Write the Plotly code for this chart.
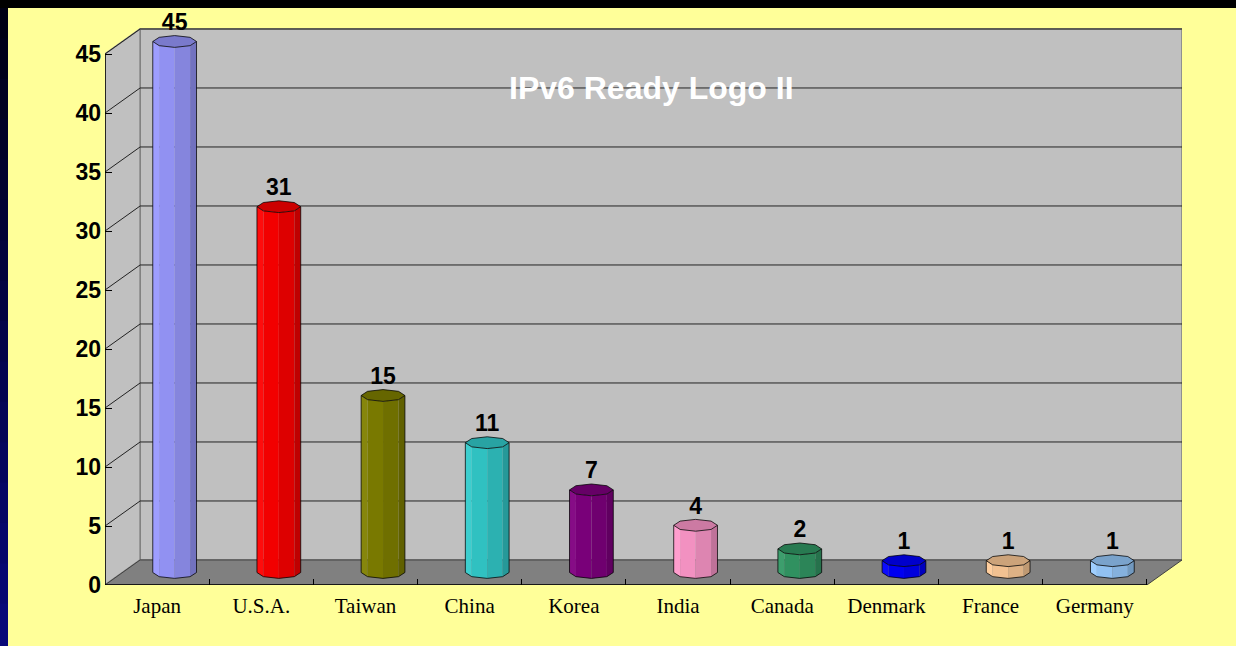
import plotly.graph_objects as go
import numpy as np

# ---- data ----
countries = ["Japan", "U.S.A.", "Taiwan", "China", "Korea", "India",
             "Canada", "Denmark", "France", "Germany"]
counts = [45, 31, 15, 11, 7, 4, 2, 1, 1, 1]
bar_colors = ["#9999FF", "#FF0000", "#808000", "#33CCCC", "#800080",
              "#FF99CC", "#339966", "#0000FF", "#FFCC99", "#99CCFF"]
y_ticks = [0, 5, 10, 15, 20, 25, 30, 35, 40, 45]
title_text = "IPv6 Ready Logo II"

# ---- geometry (axis units) ----
DX = 0.337      # depth offset in x units
DY = 2.12       # depth offset in y units
X0, X1 = -0.5, len(countries) - 0.5
YTOP = max(y_ticks)
A = 0.21        # cylinder half width
B = 0.5         # cap half height


def shade(hexcol, f):
    h = hexcol.lstrip("#")
    r, g, b = int(h[0:2], 16), int(h[2:4], 16), int(h[4:6], 16)
    if f >= 1:
        r, g, b = [int(c + (255 - c) * (f - 1)) for c in (r, g, b)]
    else:
        r, g, b = [int(c * f) for c in (r, g, b)]
    return "rgb(%d,%d,%d)" % (r, g, b)


fig = go.Figure()


def poly(xs, ys, fill, line="rgba(0,0,0,0)", width=0):
    fig.add_trace(go.Scatter(x=list(xs) + [xs[0]], y=list(ys) + [ys[0]],
                             mode="lines", fill="toself", fillcolor=fill,
                             line=dict(color=line, width=width),
                             hoverinfo="skip", showlegend=False))


def line(xs, ys, color, width=1):
    fig.add_trace(go.Scatter(x=xs, y=ys, mode="lines",
                             line=dict(color=color, width=width),
                             hoverinfo="skip", showlegend=False))


# walls
poly([X0 + DX, X1 + DX, X1 + DX, X0 + DX], [DY, DY, YTOP + DY, YTOP + DY],
     "#C0C0C0", "#808080", 1.5)
poly([X0, X0 + DX, X0 + DX, X0], [0, DY, YTOP + DY, YTOP], "#C0C0C0", "#808080", 1.5)
# floor
poly([X0, X1, X1 + DX, X0 + DX], [0, 0, DY, DY], "#808080", "#404040", 1)

# gridlines
for v in y_ticks[1:]:
    line([X0, X0 + DX, X1 + DX], [v, v + DY, v + DY], "#222222", 1)

# axis lines
line([X0, X0], [0, YTOP], "#000000", 1.5)
line([X0, X1], [0, 0], "#000000", 1.5)

# cylinders
angles = np.deg2rad(np.arange(180, 361, 45))
cap_angles = np.deg2rad(np.arange(0, 360, 45))
facet_f = [1.05, 0.95, 0.87, 0.75]
for i, (val, col) in enumerate(zip(counts, bar_colors)):
    xc = i + DX / 2
    base = DY / 2
    top = val + DY / 2
    for k in range(4):
        t0, t1 = angles[k], angles[k + 1]
        xs = [xc + A * np.cos(t0), xc + A * np.cos(t1), xc + A * np.cos(t1), xc + A * np.cos(t0)]
        ys = [base + B * np.sin(t0), base + B * np.sin(t1), top + B * np.sin(t1), top + B * np.sin(t0)]
        poly(xs, ys, shade(col, facet_f[k]))
    # cap
    cx = [xc + A * np.cos(t) for t in cap_angles]
    cy = [top + B * np.sin(t) for t in cap_angles]
    poly(cx, cy, shade(col, 0.8), "rgba(0,0,0,0.75)", 1)
    # silhouette
    sx = [xc - A] + [xc + A * np.cos(t) for t in angles] + [xc + A]
    sy = [top] + [base + B * np.sin(t) for t in angles] + [top]
    line(sx, sy, "rgba(0,0,0,0.75)", 1)

# value labels
fig.add_trace(go.Scatter(
    x=[i + DX / 2 for i in range(len(counts))],
    y=[v + DY / 2 + B for v in counts],
    mode="text", text=[str(v) for v in counts], textposition="top center",
    textfont=dict(family="Liberation Sans, Arial", size=23, color="black", weight="bold"),
    cliponaxis=False, hoverinfo="skip", showlegend=False))

# dummy trace for secondary x axis (boundary ticks)
fig.add_trace(go.Scatter(x=[X0], y=[0], xaxis="x2", mode="markers",
                         marker=dict(opacity=0), hoverinfo="skip", showlegend=False))

W, H = 1236, 646
L, R, T, Bt = 105, 1182, 20, 585
xr = [X0, X1 + DX]
yr = [0, (Bt - T) / ((Bt - 54) / YTOP)]

fig.update_layout(
    width=W, height=H,
    margin=dict(l=L, r=W - R, t=T, b=H - Bt, pad=0),
    paper_bgcolor="#FFFF99", plot_bgcolor="rgba(0,0,0,0)",
    xaxis=dict(range=xr, tickvals=list(range(len(countries))), ticktext=countries,
               showgrid=False, zeroline=False, showline=False, ticks="",
               ticklabelstandoff=6,
               tickfont=dict(family="Liberation Serif, Times New Roman", size=21, color="black")),
    xaxis2=dict(range=xr, overlaying="x", side="bottom", anchor="y",
                tickvals=[i + 0.5 for i in range(len(countries))],
                showticklabels=False, ticks="inside", ticklen=6, tickcolor="black",
                showgrid=False, zeroline=False, showline=False),
    yaxis=dict(range=yr, tickvals=y_ticks, showgrid=False, zeroline=False,
               showline=False, ticks="inside", ticklen=7, tickcolor="black",
               ticklabelstandoff=3,
               tickfont=dict(family="Liberation Sans, Arial", size=23, color="black",
                             weight="bold")),
    font=dict(family="Liberation Sans, Arial"),
)


def px_to_paper(px, py):
    return (px - L) / (R - L), (Bt - py) / (Bt - T)


# frame: black top strip, dark gradient left strip
x_left, y_top = px_to_paper(0, 0)
x_right, _ = px_to_paper(W, H)
x8, y8 = px_to_paper(8, 8)
n_steps = 16
for s in range(n_steps):
    f = s / (n_steps - 1)
    col = "rgb(%d,%d,%d)" % (int(8 * f), int(8 * f), int(20 + 100 * f))
    _, ya = px_to_paper(0, H * s / n_steps - 2)
    _, yb = px_to_paper(0, H * (s + 1) / n_steps + 2)
    fig.add_shape(type="rect", xref="paper", yref="paper", x0=x_left, x1=x8,
                  y0=yb, y1=ya, fillcolor=col, line_width=0, layer="below")
fig.add_shape(type="rect", xref="paper", yref="paper", x0=x_left, x1=x_right,
              y0=y8, y1=y_top, fillcolor="black", line_width=0, layer="below")

tx, ty = px_to_paper(651, 88)
fig.add_annotation(x=tx, y=ty, xref="paper", yref="paper", text="<b>%s</b>" % title_text,
                   showarrow=False, yanchor="middle", xanchor="center",
                   font=dict(family="Liberation Sans, Arial", size=32, color="white"))

fig.write_html("out.html")
